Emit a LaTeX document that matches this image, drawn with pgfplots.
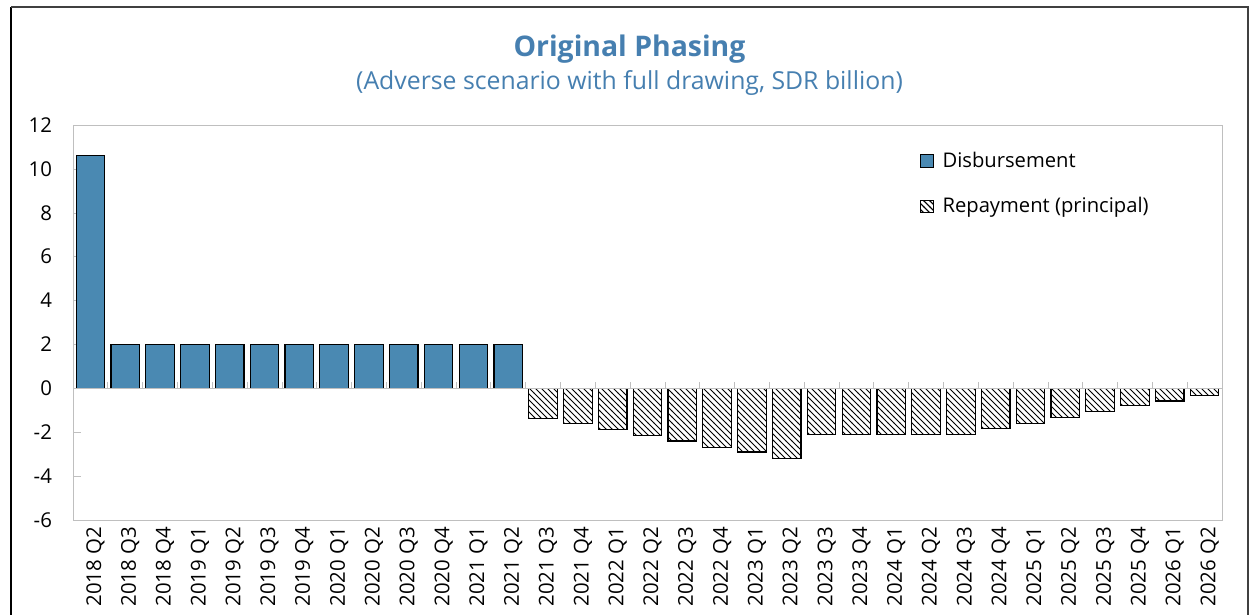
\documentclass[border=0pt]{standalone}
\usepackage{fontspec}
\setmainfont{Open Sans}
\usepackage{pgfplots}
\pgfplotsset{compat=1.18}
\usetikzlibrary{patterns}
\definecolor{disb}{RGB}{74,137,178}
\definecolor{ttl}{RGB}{70,127,176}
\definecolor{axgray}{RGB}{191,191,191}

\begin{document}
\begin{tikzpicture}
\useasboundingbox (0,0) rectangle (624.5pt,307.5pt);
% chart frame (bottom edge lies outside the picture)
\draw[black, line width=0.8pt] (5.5pt,0) -- (5.5pt,304pt);
\draw[darkgray, line width=0.8pt] (5.5pt,304pt) -- (624pt,304pt) -- (624pt,0);
\node[text=ttl, font=\bfseries\fontsize{14.2}{16}\selectfont] at (314.75pt,283pt) {Original Phasing};
\node[text=ttl, font=\fontsize{12.4}{14}\selectfont] at (314.75pt,266pt) {(Adverse scenario with full drawing, SDR billion)};
\begin{axis}[
  at={(36.5pt,47.5pt)}, anchor=south west,
  width=574.5pt, height=197.5pt, scale only axis,
  xmin=-0.5, xmax=32.5, ymin=-6, ymax=12,
  axis line style={axgray},
  ytick={-6,-4,...,12},
  yticklabels={-6,-4,-2,0,2,4,6,8,10,12},
  ytick pos=left, tick align=inside,
  major tick length=4pt,
  ytick style={axgray},
  xtick={0,...,32},
  xtick style={draw=none},
  xticklabels={2018 Q2,2018 Q3,2018 Q4,2019 Q1,2019 Q2,2019 Q3,2019 Q4,2020 Q1,2020 Q2,2020 Q3,2020 Q4,2021 Q1,2021 Q2,2021 Q3,2021 Q4,2022 Q1,2022 Q2,2022 Q3,2022 Q4,2023 Q1,2023 Q2,2023 Q3,2023 Q4,2024 Q1,2024 Q2,2024 Q3,2024 Q4,2025 Q1,2025 Q2,2025 Q3,2025 Q4,2026 Q1,2026 Q2},
  ticklabel style={font=\fontsize{10.2}{12}\selectfont},
  xticklabel style={rotate=90, anchor=east, yshift=-2.5pt},
  yticklabel style={xshift=-7pt},
  legend style={at={(0.732,0.953)}, anchor=north west, draw=none, fill=none,
    row sep=9.5pt, font=\fontsize{10.1}{12}\selectfont},
  legend cell align=left,
  clip=false,
]
\addplot[ybar, bar width=0.82, bar shift=0pt, fill=disb, draw=black, line width=0.6pt,
  legend image code/.code={\draw[fill=disb, draw=black, line width=0.5pt] (0pt,-3.2pt) rectangle (6.4pt,3.2pt); \path (8.5pt,0pt);}]
  coordinates {(0,10.6) (1,2) (2,2) (3,2) (4,2) (5,2) (6,2) (7,2) (8,2) (9,2) (10,2) (11,2) (12,2)};
\addlegendentry{Disbursement}
\addplot[ybar, bar width=0.82, bar shift=0pt, fill=white, draw=black, line width=0.6pt,
  postaction={pattern=north west lines},
  legend image code/.code={\draw[fill=white, draw=black, line width=0.5pt, postaction={pattern=north west lines}] (0pt,-3.2pt) rectangle (6.4pt,3.2pt); \path (8.5pt,0pt);}]
  coordinates {(13,-1.37) (14,-1.6) (15,-1.87) (16,-2.15) (17,-2.4) (18,-2.68) (19,-2.9) (20,-3.18)
    (21,-2.09) (22,-2.09) (23,-2.09) (24,-2.09) (25,-2.09) (26,-1.83) (27,-1.6) (28,-1.34)
    (29,-1.07) (30,-0.8) (31,-0.58) (32,-0.31)};
\addlegendentry{Repayment (principal)}
% zero line with category boundary ticks
\draw[axgray, line width=0.8pt] (axis cs:-0.5,0) -- (axis cs:32.5,0);
\pgfplotsinvokeforeach{0.5,1.5,...,31.5}{\draw[axgray] (axis cs:#1,0) -- ([yshift=3pt]axis cs:#1,0);}
\end{axis}
\end{tikzpicture}
\end{document}
